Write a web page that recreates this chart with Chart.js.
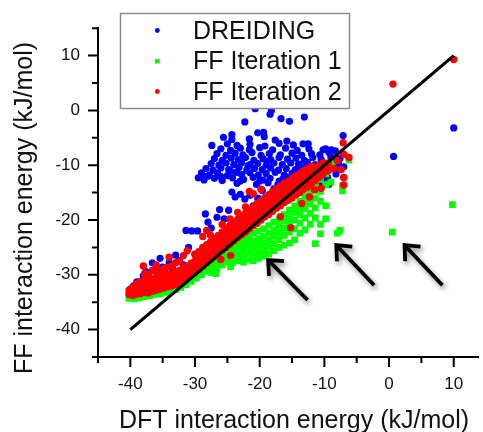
<!DOCTYPE html>
<html><head><meta charset="utf-8">
<script src="https://cdn.jsdelivr.net/npm/chart.js@4.4.1/dist/chart.umd.min.js"></script>
<style>html,body{margin:0;padding:0;background:#fff;overflow:hidden}canvas{display:block}</style>
</head><body>
<canvas id="c" width="483" height="432"></canvas>
<script>
const seriesNames = ['DREIDING', 'FF Iteration 1', 'FF Iteration 2'];
const xTickLabels = [-40, -30, -20, -10, 0, 10];
const yTickLabels = [-40, -30, -20, -10, 0, 10];
const xAxisTitle = 'DFT interaction energy (kJ/mol)';
const yAxisTitle = 'FF interaction energy (kJ/mol)';

const dreiding = [
[-29.5,-12.3],[-28.6,-12.7],[-27,-12.4],[-25.8,-12.8],[-24.2,-12.3],[-22.5,-12.6],[-21,-12.2],[-19.5,-12.7],[-18.4,-12.4],[-17,-12.9],[-15.6,-12.3],[-14.2,-12.6],[-13,-12.2],[-11.5,-12.8],[-10.2,-12.4],
[-29,-11.4],[-27.8,-11.8],[-26.5,-11.5],[-25,-11.9],[-23.6,-11.3],[-22.8,-11.7],[-21.5,-11.4],[-20.2,-11.8],[-19,-11.5],[-17.6,-11.3],[-16.2,-11.8],[-15,-11.5],[-13.6,-11.7],[-12.2,-11.3],[-11,-11.6],[-9.8,-11.4],
[-28.3,-10.6],[-27.2,-10.9],[-26,-10.5],[-24.8,-10.8],[-23.2,-10.4],[-22,-10.9],[-20.8,-10.6],[-19.6,-10.8],[-18.3,-10.5],[-17.1,-10.9],[-15.9,-10.6],[-14.5,-10.8],[-13.2,-10.4],[-12,-10.8],[-10.6,-10.5],[-9.4,-10.8],[-8.3,-10.4],
[-27.5,-9.7],[-26.3,-10],[-25.2,-9.6],[-24,-9.9],[-22.8,-9.5],[-21.5,-9.9],[-20.3,-9.7],[-19,-10],[-17.8,-9.6],[-16.5,-9.9],[-15.2,-9.6],[-14,-9.8],[-12.6,-9.5],[-11.4,-9.9],[-10,-9.6],[-8.8,-9.3],
[-27,-8.8],[-25.8,-9.1],[-24.4,-8.7],[-23.3,-9],[-22.2,-8.6],[-20.9,-9.1],[-19.5,-8.8],[-18.3,-9],[-17,-8.6],[-15.7,-8.9],[-14.4,-8.7],[-13.1,-9.1],[-11.8,-8.6],[-10.5,-8.9],[-9,-8.5],[-7.6,-8.8],
[-26.6,-7.9],[-25.2,-8.2],[-23.8,-7.8],[-22.6,-8.1],[-21.2,-7.7],[-19.8,-8.2],[-18.5,-7.9],[-16.8,-8.1],[-15,-7.8],[-13.5,-8.2],[-12,-7.9],[-10.7,-8.1],[-9.3,-7.7],
[-26,-7],[-24.5,-7.3],[-23,-6.9],[-21.6,-7.2],[-20,-6.8],[-18,-7.2],[-16,-6.9],[-14.2,-7.3],[-12.4,-7],[-10.2,-7.2],[-8.3,-7.4],
[-25,-6.1],[-23.5,-6.4],[-21.5,-6.2],[-19.2,-6.5],[-17,-6],[-14.8,-6.3],[-12.5,-6.1],
[-23.5,-13.3],[-20.5,-13.5],[-18.7,-13.2],[-17.2,-13.6],[-15.8,-13.3],[-14.2,-13.5],[-12.8,-13.2],[-11.5,-13.6],[-10.4,-13.2],[-9.3,-13.5],[-7,-12.2],
[-28,-12],[-26,-12.1],[-24.5,-11.1],[-23,-12.9],[-21.8,-10.1],[-20,-12.9],[-18.8,-9.3],[-16.4,-12.5],[-13.8,-10.2],[-11,-10.2],[-9.5,-12.2],[-8.2,-11.6],[-7.8,-9.8],[-7,-10.3],
[-25.6,-4.9],[-24.3,-4.4],[-24.3,-5.3],[-22.3,-2.1],[-21.6,-5.2],[-20.7,0.3],[-20.3,-4.1],[-19.4,-4],[-19.3,-4.8],[-18.2,0],[-18.4,-0.7],[-16.7,-1.5],[-15.4,-2],[-13.1,-1.2],[-13.3,-6.1],[-17.6,-5.4],[-15.8,-5.6],[-9.8,-7],[-8.9,-7.2],[-7.1,-4.6],[-27.4,-6.4],[-28.8,-11.9],
[-40,-32.6],[-39.5,-32],[-39,-31.3],[-38.5,-31.8],[-38,-30.2],[-37.6,-29.4],[-37,-30.5],[-36.6,-27.8],[-36,-28.8],[-35.4,-27],[-35,-28.6],[-34.6,-29.6],[-34,-27.8],[-33.4,-29],[-33,-26.4],[-32.4,-27.4],[-31.8,-28.2],
[-31.4,-21.9],[-30.5,-22],[-29.6,-22],[-31,-25],[-30,-26.2],[-29.3,-27],[-28.4,-18.9],[-28,-20.4],[-27.5,-21.5],[-26.6,-19.5],[-26.2,-18.1],[-25.5,-19.8],[-24.8,-18.2],
[-24.3,-14.9],[-23.8,-15.8],[-23,-15.3],[-22.3,-16.2],[-21.5,-15.5],[-21,-17.4],[-20.3,-16],[-19.6,-14.6],[-19.2,-17.3],[-18.5,-15.6],[-17.8,-14.3],[-17,-16],[-16.3,-14.8],[-15.5,-13.8],
[-24.2,-25.6],[-23.4,-23],[-22.6,-24.6],[-21.6,-22.2],[-26.8,-23.8],[-27.6,-25.6],
[0.7,-8.4],[10,-3.2]
];

const ffIter1 = [
[-40.2,-34.3],[-40.2,-33.8],[-39.4,-34.4],[-39.4,-33.6],[-38.6,-34.2],[-38.6,-33.4],[-37.8,-34],[-37.8,-33.2],
[-37,-33.8],[-37,-33],[-36.2,-33.6],[-36.2,-32.8],[-35.4,-33.5],[-35.4,-32.6],[-34.6,-33.2],[-34.6,-32.3],
[-33.8,-33],[-33.8,-32],[-33,-32.7],[-33,-31.7],[-32.2,-32.3],[-32.2,-31.3],[-31.4,-31.8],[-31.4,-30.8],
[-30.6,-31.2],[-30.6,-30.2],[-29.8,-30.6],[-29.8,-29.6],[-29,-30],[-29,-29],[-28.2,-29.4],[-28.2,-28.4],
[-27.4,-29.6],[-27.4,-28.8],[-27.4,-27.8],[-26.6,-28.8],[-26.6,-27.6],[-26.6,-26.8],[-25.8,-28.2],[-25.8,-27],[-25.8,-26],
[-25,-27.6],[-25,-26.5],[-25,-25.4],[-24.2,-27.8],[-24.2,-26.6],[-24.2,-25.4],[-24.2,-24.4],
[-23.4,-27.4],[-23.4,-26.2],[-23.4,-25],[-23.4,-23.8],[-22.6,-27],[-22.6,-25.8],[-22.6,-24.6],[-22.6,-23.4],
[-21.8,-27.2],[-21.8,-26],[-21.8,-24.8],[-21.8,-23.6],[-21.8,-22.6],[-21,-27.4],[-21,-26.2],[-21,-25],[-21,-23.8],[-21,-22.4],
[-20.2,-27],[-20.2,-25.8],[-20.2,-24.6],[-20.2,-23.4],[-20.2,-22],[-19.4,-26.6],[-19.4,-25.4],[-19.4,-24.2],[-19.4,-23],[-19.4,-21.6],
[-18.6,-26.2],[-18.6,-24.9],[-18.6,-23.7],[-18.6,-22.4],[-18.6,-21],[-17.8,-25.6],[-17.8,-24.3],[-17.8,-23],[-17.8,-21.8],[-17.8,-20.4],
[-17,-25],[-17,-23.6],[-17,-22.3],[-17,-21],[-17,-19.8],[-16.2,-24.6],[-16.2,-22.8],[-16.2,-21.5],[-16.2,-20.2],[-16.2,-19],
[-15.4,-24.2],[-15.4,-22.2],[-15.4,-20.6],[-15.4,-19.4],[-15.4,-18.2],[-14.6,-23.6],[-14.6,-21.6],[-14.6,-20],[-14.6,-18.6],[-14.6,-17.4],
[-13.8,-22.4],[-13.8,-20.6],[-13.8,-19],[-13.8,-17.8],[-13.8,-16.6],[-13,-21.8],[-13,-19.6],[-13,-18],[-13,-16.8],[-13,-15.6],
[-12.2,-20.8],[-12.2,-18.8],[-12.2,-17],[-12.2,-15.6],[-12.2,-14.4],[-11.4,-24.3],[-11.4,-19.6],[-11.4,-17.8],[-11.4,-16],[-11.4,-14.6],[-11.4,-13.4],
[-10.6,-22.5],[-10.6,-20.8],[-10.6,-16.6],[-10.6,-14.8],[-10.6,-12.6],[-9.8,-19.8],[-9.8,-17.4],[-9.8,-13.6],[-9.8,-11.6],
[-9,-13.1],[-8.8,-9.7],[-8,-22.4],[-7.6,-21.9],[-7.2,-14.7],[-7.2,-13.7],[-6.2,-9.1],
[-26.8,-29.8],[-24.5,-28.5],[-22.5,-27.7],[-19.7,-26.2],
[0.5,-22.2],[9.8,-17.2]
];

const ffIter2 = [
[-40.2,-33.6],[-40.2,-32.8],[-39.6,-33.8],[-39.6,-33],[-39.6,-32.2],[-39,-33.5],[-39,-32.6],[-39,-31.6],
[-38.4,-33.4],[-38.4,-32.4],[-38.4,-31.2],[-37.8,-33.2],[-37.8,-32.2],[-37.8,-31],[-37.8,-29.8],
[-37.2,-33.3],[-37.2,-32.3],[-37.2,-31.3],[-37.2,-30],[-36.6,-33],[-36.6,-32],[-36.6,-30.8],[-36.6,-29.2],
[-36,-32.8],[-36,-31.8],[-36,-30.6],[-36,-29.6],[-36,-28.2],[-35.4,-32.6],[-35.4,-31.6],[-35.4,-30.4],[-35.4,-29.2],
[-34.8,-32.4],[-34.8,-31.3],[-34.8,-30.2],[-34.8,-28.8],[-34.2,-32.2],[-34.2,-31.1],[-34.2,-30],[-34.2,-28.6],
[-33.6,-32],[-33.6,-31],[-33.6,-29.8],[-33.6,-28.4],[-33,-31.8],[-33,-30.6],[-33,-29.4],[-33,-27.8],
[-32.4,-31.5],[-32.4,-30.4],[-32.4,-29.2],[-32.4,-27.6],[-31.8,-31.2],[-31.8,-30],[-31.8,-28.8],[-31.8,-26.5],
[-31.2,-30.6],[-31.2,-29.5],[-31.2,-28.4],[-31.2,-25.6],[-30.6,-30],[-30.6,-29],[-30.6,-27.9],
[-30,-29.6],[-30,-28.6],[-30,-27.5],[-30,-26.4],[-29.4,-29],[-29.4,-28],[-29.4,-27],[-29.4,-25.8],
[-28.8,-28.4],[-28.8,-27.4],[-28.8,-26.3],[-28.8,-25],[-28.8,-23],[-28.2,-27.8],[-28.2,-26.8],[-28.2,-25.7],[-28.2,-24.5],[-28.2,-21.9],
[-27.6,-27.2],[-27.6,-26.2],[-27.6,-25.2],[-27.6,-24],[-27.6,-22.8],[-27,-26.6],[-27,-25.6],[-27,-24.6],[-27,-23.4],
[-26.4,-26],[-26.4,-25],[-26.4,-23.9],[-26.4,-22.8],[-25.8,-25.5],[-25.8,-24.4],[-25.8,-23.3],[-25.8,-22.2],[-25.8,-20.8],
[-25.2,-25],[-25.2,-23.9],[-25.2,-22.8],[-25.2,-21.6],[-24.6,-24.4],[-24.6,-23.3],[-24.6,-22.2],[-24.6,-21],[-24.6,-19.8],
[-24,-23.8],[-24,-22.8],[-24,-21.6],[-24,-20.4],[-23.4,-23.2],[-23.4,-22.2],[-23.4,-21],[-23.4,-19.9],[-23.4,-18.6],
[-22.8,-22.7],[-22.8,-21.6],[-22.8,-20.5],[-22.8,-19.3],[-22.2,-22.2],[-22.2,-21],[-22.2,-20],[-22.2,-18.8],[-22.2,-17.6],
[-21.6,-21.6],[-21.6,-20.5],[-21.6,-19.4],[-21.6,-18.2],[-21,-21],[-21,-20],[-21,-18.8],[-21,-17.6],[-21,-15.2],
[-20.4,-20.6],[-20.4,-19.4],[-20.4,-18.2],[-20.4,-17],[-19.8,-20],[-19.8,-18.9],[-19.8,-17.7],[-19.8,-16.5],[-19.8,-14.4],
[-19.2,-19.4],[-19.2,-18.3],[-19.2,-17.1],[-19.2,-15.9],[-18.6,-19],[-18.6,-17.8],[-18.6,-16.6],[-18.6,-15.4],
[-18,-18.4],[-18,-17.2],[-18,-16],[-18,-14.8],[-17.4,-17.8],[-17.4,-16.6],[-17.4,-15.5],[-17.4,-14.3],
[-16.8,-17.4],[-16.8,-16.2],[-16.8,-15],[-16.8,-13.8],[-16.2,-16.8],[-16.2,-15.6],[-16.2,-14.4],[-16.2,-13.3],
[-15.6,-16.4],[-15.6,-15.2],[-15.6,-14],[-15.6,-12.9],[-15,-16],[-15,-14.6],[-15,-13.5],[-15,-12.4],
[-14.4,-15.4],[-14.4,-14.2],[-14.4,-13],[-14.4,-11.9],[-13.8,-15],[-13.8,-13.6],[-13.8,-12.5],[-13.8,-11.5],
[-13.2,-14.4],[-13.2,-13.2],[-13.2,-12],[-13.2,-11],[-12.6,-14],[-12.6,-12.6],[-12.6,-11.5],[-12.6,-10.6],
[-12,-13.4],[-12,-12.2],[-12,-11],[-12,-10.2],[-11.4,-12.8],[-11.4,-11.6],[-11.4,-10.5],
[-10.8,-12.2],[-10.8,-11],[-10.8,-10],[-10.2,-11.6],[-10.2,-10.4],[-10.2,-9.6],[-9.4,-11],[-9.4,-9.6],
[-8.6,-10.6],[-8,-9.2],[-7.4,-10.8],[-7.1,-5.9],[-7,-8],[-6.2,-8.6],[-7,-12.3],[-7,-13.6],
[-11.5,-14.5],[-12.3,-15.8],[-13.5,-17],[-10.5,-14.2],[-15.2,-21.4],[-16.8,-19.4],[-21.6,-14.8],[-24.5,-26.5],[-26,-27.2],[-38,-28.4],[-34,-26.8],
[0.6,4.8],[10,9.3]
];

const parityX = [-40, 10];
const parityY = [-40, 10];
const arrowTails = [[-12.6,-34.6],[-2.3,-31.9],[8.25,-31.9]];
const arrowHeads = [[-18.7,-27.3],[-8.15,-24.6],[2.4,-24.6]];

const FONT = '"Liberation Sans", Arial, Helvetica, sans-serif';
const toPts = a => a.map(([x, y]) => ({x, y}));

const decor = {
  id: 'decor',
  afterDatasetsDraw(chart) {
    const ctx = chart.ctx, xs = chart.scales.x, ys = chart.scales.y;
    ctx.save();
    ctx.strokeStyle = '#000';
    ctx.lineWidth = 3.8;
    ctx.lineCap = 'butt';
    ctx.lineJoin = 'miter';
    ctx.shadowColor = 'rgba(0,0,0,0.45)';
    ctx.shadowBlur = 5;
    ctx.shadowOffsetX = 2;
    ctx.shadowOffsetY = 3;
    arrowTails.forEach((t, i) => {
      const x1 = xs.getPixelForValue(t[0]), y1 = ys.getPixelForValue(t[1]);
      const x2 = xs.getPixelForValue(arrowHeads[i][0]), y2 = ys.getPixelForValue(arrowHeads[i][1]);
      const a = Math.atan2(y2 - y1, x2 - x1), h = 16, s = 0.72;
      ctx.beginPath();
      ctx.moveTo(x1, y1); ctx.lineTo(x2, y2);
      ctx.moveTo(x2 - h * Math.cos(a - s), y2 - h * Math.sin(a - s));
      ctx.lineTo(x2, y2);
      ctx.lineTo(x2 - h * Math.cos(a + s), y2 - h * Math.sin(a + s));
      ctx.stroke();
    });
    ctx.restore();
  },
  afterDraw(chart) {
    const ctx = chart.ctx, xs = chart.scales.x, ys = chart.scales.y;
    ctx.save();
    ctx.strokeStyle = '#000';
    ctx.lineWidth = 2;
    ctx.beginPath();
    xs.ticks.forEach(t => {
      const p = xs.getPixelForValue(t.value);
      const L = xTickLabels.includes(t.value) ? 10 : 6;
      ctx.moveTo(p, ys.bottom); ctx.lineTo(p, ys.bottom + L);
    });
    ys.ticks.forEach(t => {
      const p = ys.getPixelForValue(t.value);
      const L = yTickLabels.includes(t.value) ? 10 : 6;
      ctx.moveTo(xs.left, p); ctx.lineTo(xs.left - L, p);
    });
    ctx.stroke();
    ctx.fillStyle = '#111';
    ctx.font = '25px ' + FONT;
    ctx.textAlign = 'center';
    ctx.textBaseline = 'alphabetic';
    ctx.fillText(xAxisTitle, 294, 428);
    ctx.save();
    ctx.translate(32, 208);
    ctx.rotate(-Math.PI / 2);
    ctx.fillText(yAxisTitle, 0, 0);
    ctx.restore();
    ctx.fillStyle = '#fff';
    ctx.fillRect(120.5, 13.5, 229, 95);
    ctx.strokeStyle = '#8c8c8c';
    ctx.lineWidth = 1.5;
    ctx.strokeRect(120.5, 13.5, 229, 95);
    const rows = [38.5, 69, 99.5];
    const cols = ['#0000ff', '#00ff00', '#ff0000'];
    ctx.textAlign = 'left';
    seriesNames.forEach((n, i) => {
      const my = rows[i] - 8;
      ctx.fillStyle = cols[i];
      if (i === 1) { ctx.fillRect(155, my - 2, 4.5, 4.5); }
      else { ctx.beginPath(); ctx.arc(157.3, my, 2.4, 0, Math.PI * 2); ctx.fill(); }
      ctx.fillStyle = '#111';
      ctx.fillText(n, 193, rows[i]);
    });
    ctx.restore();
  }
};

new Chart(document.getElementById('c'), {
  type: 'scatter',
  data: {
    datasets: [
      { label: 'y = x', type: 'line', data: parityX.map((x, i) => ({x, y: parityY[i]})),
        borderColor: '#000', borderWidth: 3.2, pointRadius: 0, fill: false, order: 0 },
      { label: seriesNames[2], data: toPts(ffIter2), backgroundColor: '#ff0000', borderWidth: 0,
        pointRadius: 3.7, order: 1 },
      { label: seriesNames[1], data: toPts(ffIter1), backgroundColor: '#00ff00', borderWidth: 0,
        pointStyle: 'rect', pointRadius: 4.7, order: 2 },
      { label: seriesNames[0], data: toPts(dreiding), backgroundColor: '#0000ff', borderWidth: 0,
        pointRadius: 3.6, order: 3 }
    ]
  },
  options: {
    responsive: false,
    animation: false,
    devicePixelRatio: 1,
    layout: { padding: { left: 0, right: 0, top: 28, bottom: 0 } },
    plugins: { legend: { display: false }, tooltip: { enabled: false } },
    scales: {
      x: {
        type: 'linear', min: -45, max: 13.8,
        afterFit: s => { s.height = 75; },
        grid: { display: false, drawTicks: false },
        border: { display: true, color: '#000', width: 2 },
        ticks: { stepSize: 5, includeBounds: false, padding: 17, color: '#111',
          font: { family: FONT, size: 17 },
          callback: v => xTickLabels.includes(v) ? String(v) : '' }
      },
      y: {
        type: 'linear', min: -45, max: 15,
        afterFit: s => { s.width = 98; },
        grid: { display: false, drawTicks: false },
        border: { display: true, color: '#000', width: 2 },
        ticks: { stepSize: 5, includeBounds: false, padding: 18, color: '#111',
          font: { family: FONT, size: 17 },
          callback: v => yTickLabels.includes(v) ? String(v) : '' }
      }
    }
  },
  plugins: [decor]
});
</script>
</body></html>
